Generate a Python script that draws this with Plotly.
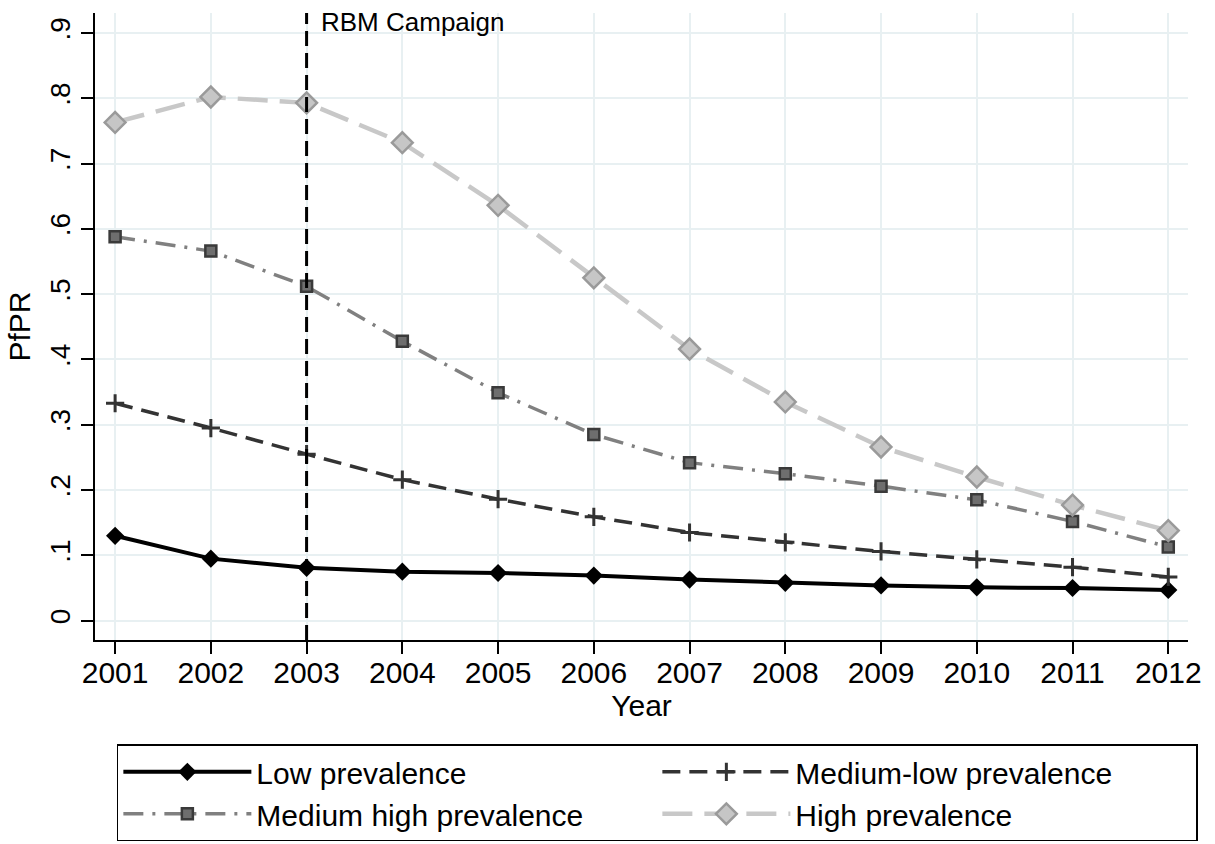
import plotly.graph_objects as go

years = [2001, 2002, 2003, 2004, 2005, 2006, 2007, 2008, 2009, 2010, 2011, 2012]
low = [0.130, 0.095, 0.081, 0.075, 0.073, 0.069, 0.063, 0.058, 0.054, 0.051, 0.050, 0.047]
medium_low = [0.333, 0.295, 0.255, 0.216, 0.186, 0.159, 0.135, 0.120, 0.106, 0.094, 0.082, 0.067]
medium_high = [0.588, 0.566, 0.512, 0.428, 0.349, 0.285, 0.242, 0.225, 0.206, 0.185, 0.152, 0.113]
high = [0.763, 0.802, 0.793, 0.732, 0.636, 0.525, 0.416, 0.335, 0.266, 0.220, 0.177, 0.138]

series_names = ["Low prevalence", "Medium-low prevalence", "Medium high prevalence", "High prevalence"]
y_tickvals = [0, 0.1, 0.2, 0.3, 0.4, 0.5, 0.6, 0.7, 0.8, 0.9]
y_ticktext = ["0", ".1", ".2", ".3", ".4", ".5", ".6", ".7", ".8", ".9"]
campaign_year = 2003
campaign_label = "RBM Campaign"

FONT = "Liberation Sans, Arial, Helvetica, sans-serif"

fig = go.Figure()

fig.add_trace(go.Scatter(
    x=years, y=low, name=series_names[0], mode="lines+markers",
    line=dict(color="#000000", width=4),
    marker=dict(symbol="diamond", size=14, color="#000000"),
))
fig.add_trace(go.Scatter(
    x=years, y=medium_low, name=series_names[1], mode="lines+markers",
    line=dict(color="#333333", width=3.5, dash="18px,9px"),
    marker=dict(symbol="cross-thin", size=13, color="#333333",
                line=dict(color="#333333", width=3)),
))
fig.add_trace(go.Scatter(
    x=years, y=medium_high, name=series_names[2], mode="lines+markers",
    line=dict(color="#808080", width=3.5, dash="20px,9px,3px,9px"),
    marker=dict(symbol="square", size=11, color="#6e6e6e",
                line=dict(color="#3a3a3a", width=2.5)),
))
fig.add_trace(go.Scatter(
    x=years, y=high, name=series_names[3], mode="lines+markers",
    line=dict(color="#c8c8c8", width=4.5, dash="30px,12px"),
    marker=dict(symbol="diamond", size=16, color="#c6c6c6",
                line=dict(color="#9a9a9a", width=2.5)),
))

fig.add_shape(type="line", xref="x", yref="paper",
              x0=campaign_year, x1=campaign_year, y0=0, y1=1,
              line=dict(color="#000000", width=3, dash="15px,7px"), layer="above")

fig.add_annotation(x=campaign_year, xref="x", y=1, yref="paper",
                   text=campaign_label, showarrow=False,
                   xanchor="left", yanchor="middle", xshift=12, yshift=-9,
                   font=dict(family=FONT, size=26, color="#000000"))

grid_color = "#e8f0f2"

fig.update_xaxes(
    range=[2000.79, 2012.206], tickvals=years, ticktext=[str(y) for y in years],
    showgrid=True, gridcolor=grid_color, gridwidth=2, zeroline=False,
    showline=True, linecolor="#000000", linewidth=1.5,
    ticks="outside", ticklen=12, tickwidth=1.5, tickcolor="#000000",
    tickfont=dict(family=FONT, size=30, color="#000000"),
    ticklabelstandoff=-7,
    title=dict(text="Year", font=dict(family=FONT, size=30, color="#000000"), standoff=6),
    automargin=False,
)
fig.update_yaxes(
    range=[-0.0296, 0.9306], tickvals=y_tickvals, ticktext=y_ticktext, tickangle=-90,
    showgrid=True, gridcolor=grid_color, gridwidth=2, zeroline=False,
    showline=True, linecolor="#000000", linewidth=1.5,
    ticks="outside", ticklen=12, tickwidth=1.5, tickcolor="#000000",
    tickfont=dict(family=FONT, size=28, color="#000000"),
    title=dict(text="PfPR", font=dict(family=FONT, size=30, color="#000000"), standoff=6),
    automargin=False,
)

fig.update_layout(
    width=1215, height=844,
    margin=dict(l=95, r=27, t=13, b=204, autoexpand=False),
    plot_bgcolor="#ffffff", paper_bgcolor="#ffffff",
    font=dict(family=FONT, size=30, color="#000000"),
    legend=dict(
        orientation="h", x=0.02, xanchor="left", y=-0.1664, yanchor="top",
        bordercolor="#000000", borderwidth=1.5, bgcolor="#ffffff",
        font=dict(family=FONT, size=30, color="#000000"),
        entrywidth=396, entrywidthmode="pixels", itemwidth=128,
        traceorder="normal",
    ),
    showlegend=True,
)

fig.write_html("out.html", config={"displayModeBar": False},
               post_script="document.body.style.margin='0';document.body.style.overflow='hidden';")
